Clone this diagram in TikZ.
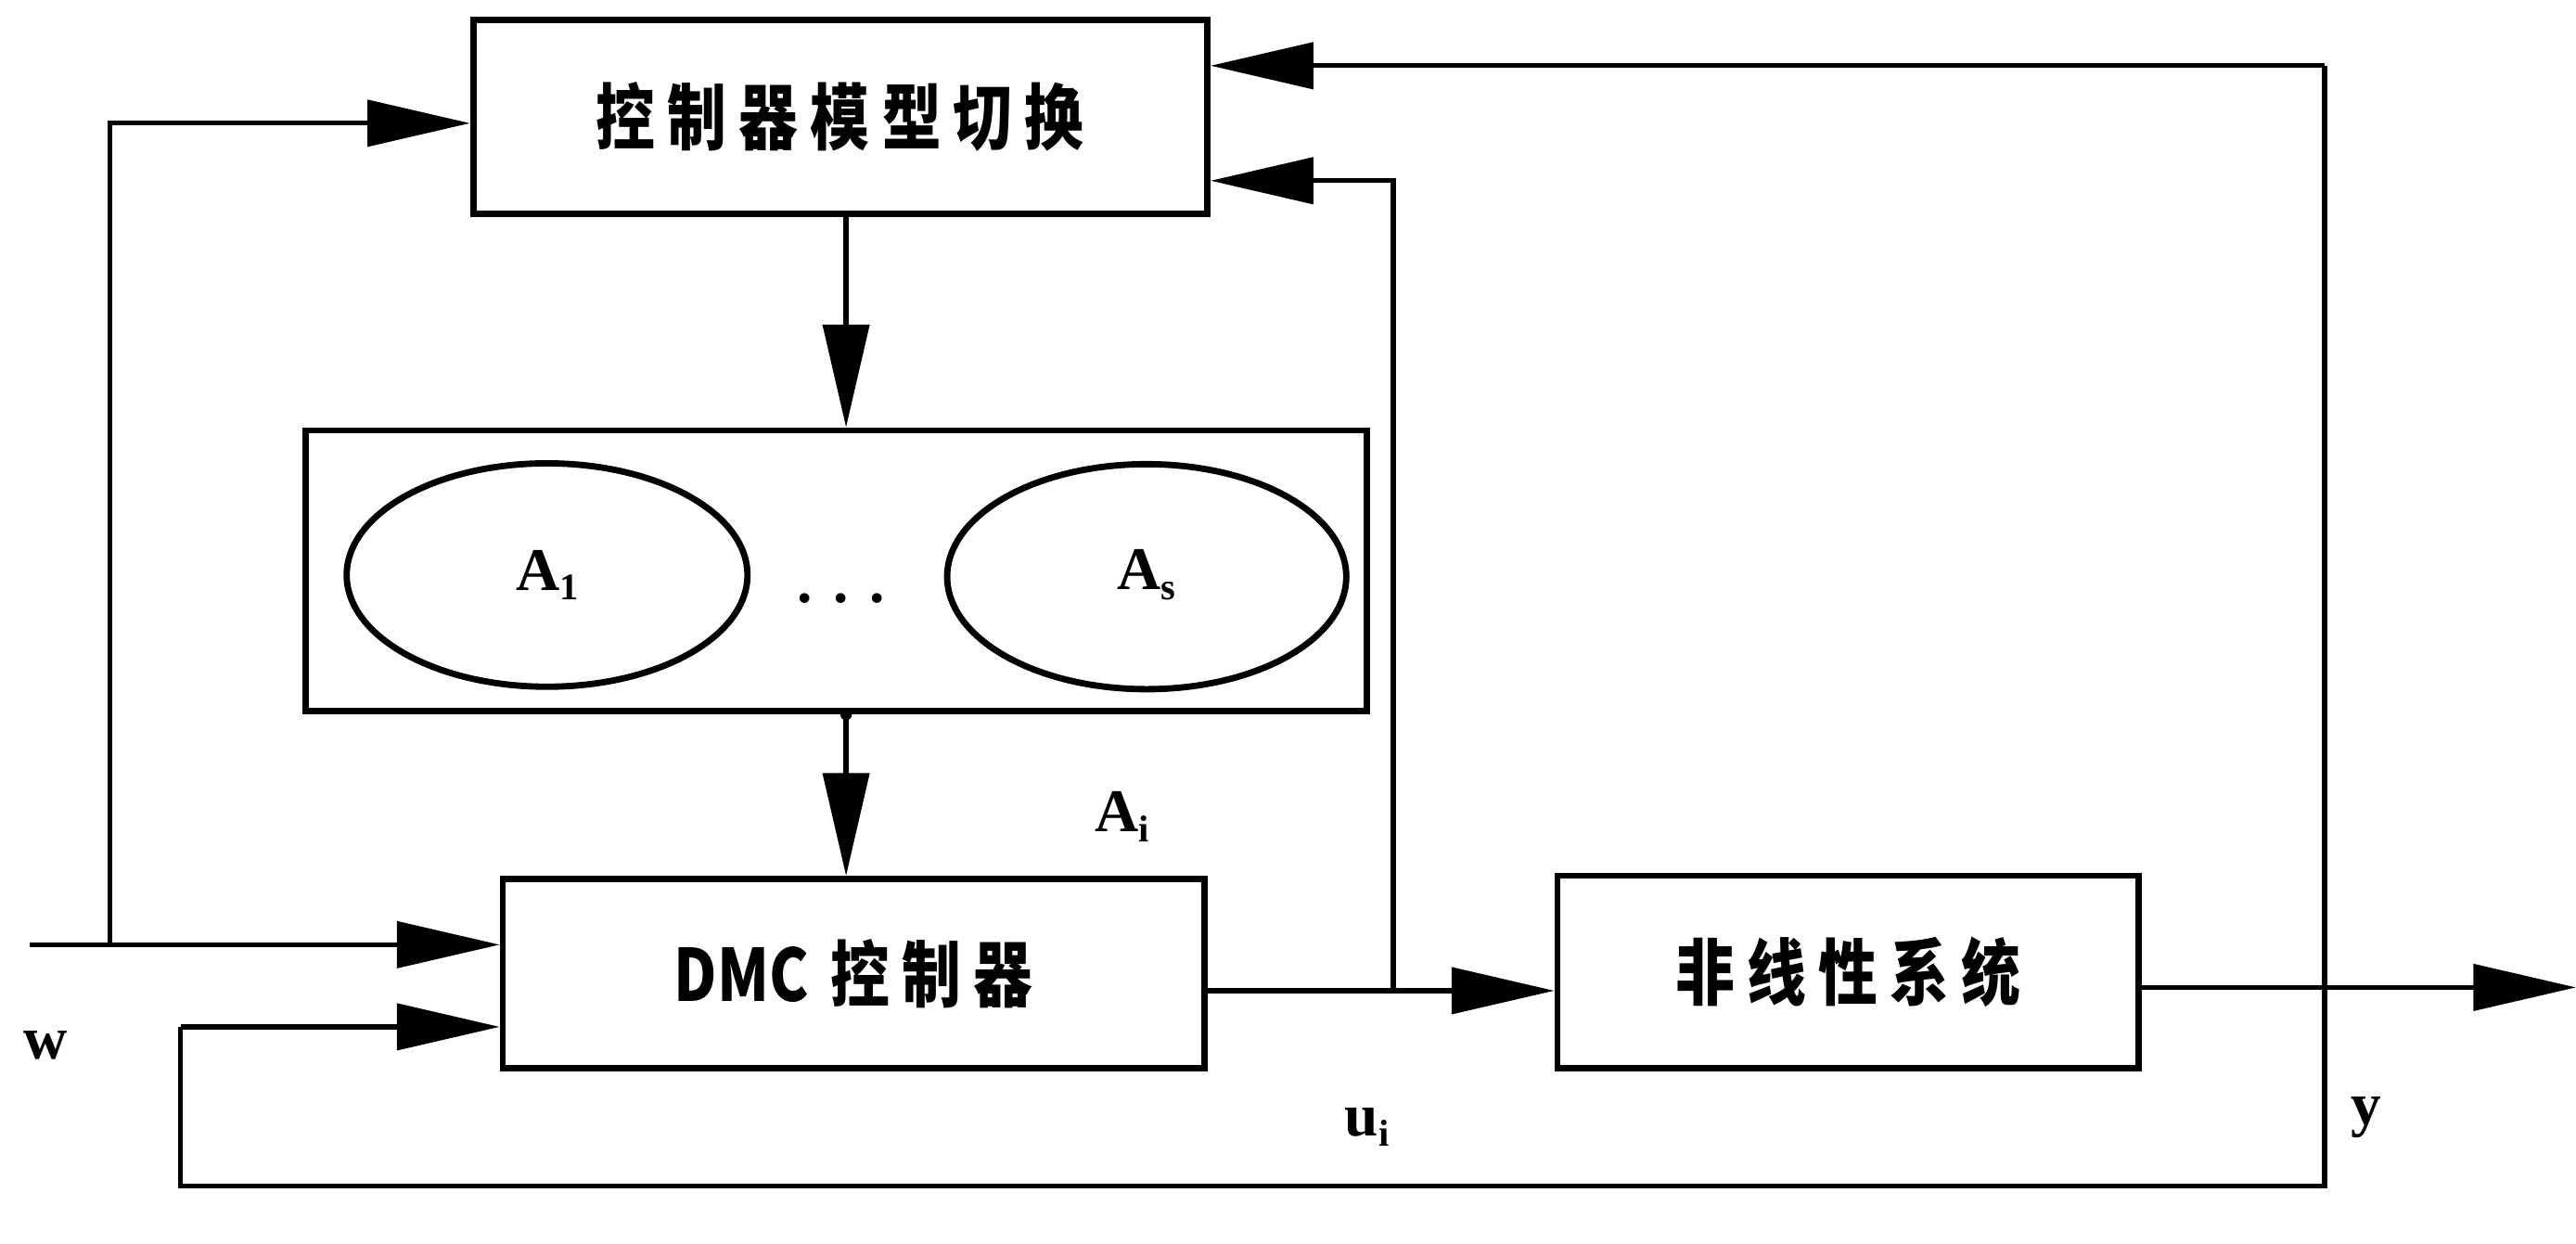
\documentclass[tikz,border=0pt]{standalone}
\usepackage{fontspec}
\setmainfont{Liberation Serif}
\newfontfamily\cjk[FakeStretch=0.82]{Noto Sans CJK SC}
\usetikzlibrary{arrows.meta,calc,shapes.geometric}
\newcommand\cg{\hspace{0.17em}}
\begin{document}
\begin{tikzpicture}[x=0.02cm,y=-0.02cm,
  box/.style={draw,line width=2.2pt,inner sep=0pt,font=\cjk\bfseries\fontsize{25}{30}\selectfont},
  oval/.style={draw,ellipse,line width=2.2pt,inner sep=0pt},
  lab/.style={font=\fontsize{21}{24}\selectfont\bfseries,inner sep=0pt},
  ln/.style={line width=1.7pt},
  arr/.style={line width=1.7pt,-{Triangle[length=1.25cm,width=0.56cm]}}]
\useasboundingbox (0,0) rectangle (1568,757);
% blocks
\node[box,minimum width=8.94cm,minimum height=2.36cm] (sw) at (511.5,71)
  {控\cg 制\cg 器\cg 模\cg 型\cg 切\cg 换};
\node[box,minimum width=12.92cm,minimum height=3.42cm] (models) at (509,347.5) {};
\node[oval,minimum width=4.88cm,minimum height=2.72cm] (e1) at (333,350) {};
\node[oval,minimum width=4.86cm,minimum height=2.74cm] (es) at (698,351) {};
\node[lab] (a1) at (333,350) {A\raisebox{-0.35ex}{\fontsize{13}{14}\selectfont 1}};
\node[lab] (as) at (698,350) {A\raisebox{-0.35ex}{\fontsize{13}{14}\selectfont s}};
\node[lab] (dots) at (512,364) {.\hspace{0.35em}.\hspace{0.35em}.};
\node[box,minimum width=8.54cm,minimum height=2.3cm] (dmc) at (519.5,592.5)
  {DMC\hspace{0.3em}控\cg 制\cg 器};
\node[box,minimum width=7.08cm,minimum height=2.34cm] (plant) at (1125,591.5)
  {非\cg 线\cg 性\cg 系\cg 统};
% labels
\node[lab] (ai) at (683,497) {A\raisebox{-0.35ex}{\fontsize{13}{14}\selectfont i}};
\node[lab] (w) at (28,636) {w};
\node[lab] (ui) at (832,686) {u\raisebox{-0.35ex}{\fontsize{13}{14}\selectfont i}};
\node[lab] (y) at (1440,680) {y};
% coordinates
\coordinate (mx) at (515,0);
\coordinate (win) at (18,575);
\coordinate (j1) at (67,575);
\coordinate (jt) at (67,75);
\coordinate (yout) at (1568,601);
\coordinate (fbtop) at (1415,40);
\coordinate (fbbot) at (1415,722);
\coordinate (fbl) at (110,722);
\coordinate (fbin) at (110,625);
\coordinate (ub) at (848,603);
\coordinate (ut) at (848,110);
% connectors
\draw[arr] (sw.south -| mx) -- (models.north -| mx);
\fill ($(models.south -| mx)$) circle (3.5);
\draw[arr] (models.south -| mx) -- (dmc.north -| mx);
\draw[arr] (win) -- (win -| dmc.west);
\draw[arr] (j1) -- (jt) -- (jt -| sw.west);
\draw[arr] (plant.east |- yout) -- (yout);
\draw[ln] (fbin) -- (fbl) -- (fbbot) -- (fbtop);
\draw[arr] (fbin) -- (fbin -| dmc.west);
\draw[arr] (fbtop) -- (fbtop -| sw.east);
\draw[arr] (dmc.east |- ub) -- (ub -| plant.west);
\draw[arr] (ub) -- (ut) -- (ut -| sw.east);
\end{tikzpicture}
\end{document}
